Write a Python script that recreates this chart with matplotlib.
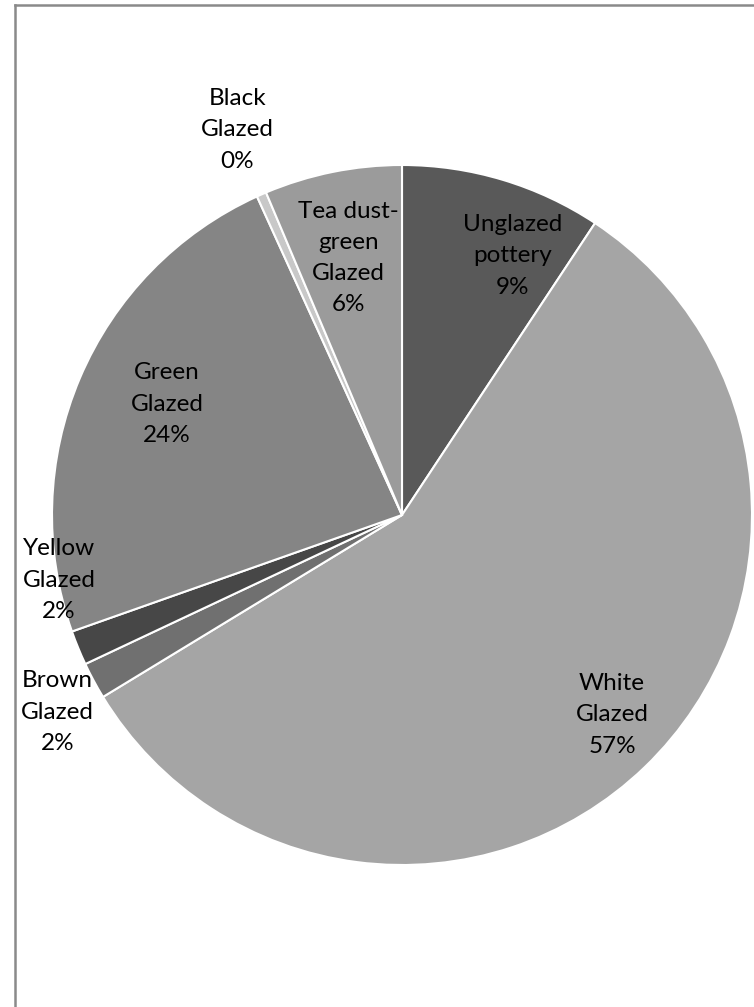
import matplotlib.pyplot as plt
from matplotlib.lines import Line2D

# Share of sherds by glaze type, clockwise from 12 o'clock.
categories = [
    "Unglazed\npottery",
    "White\nGlazed",
    "Brown\nGlazed",
    "Yellow\nGlazed",
    "Green\nGlazed",
    "Black\nGlazed",
    "Tea dust-\ngreen\nGlazed",
]
shares = [9.3, 57.0, 1.7, 1.6, 23.6, 0.45, 6.35]
colors = ["#595959", "#a5a5a5", "#707070", "#474747", "#858585", "#c8c8c8", "#9b9b9b"]

# Where each data label sits, in pie-radius units from the centre.
label_pos = [
    (0.317, 0.74),
    (0.60, -0.571),
    (-0.985, -0.563),
    (-0.98, -0.186),
    (-0.671, 0.317),
    (-0.471, 1.10),
    (-0.154, 0.734),
]

W, H = 754, 1007
fig = plt.figure(figsize=(W / 100, H / 100), dpi=100)

# pie centre and radius in pixels (from top-left)
cx, cy, r = 402, 515, 350
ax = fig.add_axes([(cx - r) / W, (H - cy - r) / H, 2 * r / W, 2 * r / H])

ax.pie(
    shares,
    colors=colors,
    startangle=90,
    counterclock=False,
    radius=1.0,
    wedgeprops=dict(edgecolor="white", linewidth=1.5),
)
ax.set_xlim(-1, 1)
ax.set_ylim(-1, 1)
ax.set_aspect("equal")
ax.axis("off")

for name, val, (x, y) in zip(categories, shares, label_pos):
    ax.text(
        x, y,
        f"{name}\n{round(val):.0f}%",
        ha="center", va="center",
        fontsize=17.5, family=["Lato", "DejaVu Sans"],
        color="#000000", linespacing=1.6,
        clip_on=False,
    )

# chart-area frame: only the left and top edges fall inside the image
fig.add_artist(Line2D([14.5 / W, 14.5 / W], [0, 1 - 5 / H], color="#8a8a8a", linewidth=1.8,
                      transform=fig.transFigure))
fig.add_artist(Line2D([14.5 / W, 1], [1 - 5 / H, 1 - 5 / H], color="#8a8a8a", linewidth=1.8,
                      transform=fig.transFigure))

fig.savefig("out.png", dpi=100)
